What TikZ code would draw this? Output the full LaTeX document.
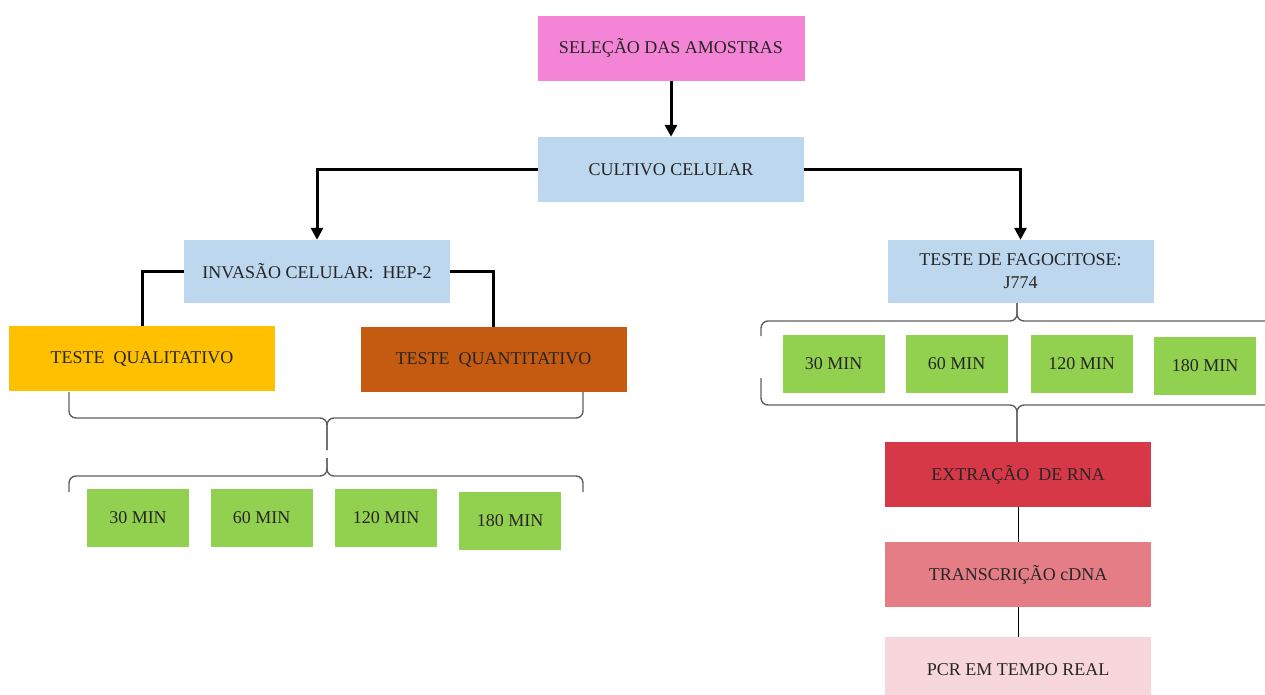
\documentclass[tikz,border=0pt]{standalone}
\usepackage{fontspec}
\setmainfont{Liberation Serif}
\usetikzlibrary{arrows.meta}

\definecolor{rosa}{HTML}{F484D6}
\definecolor{azul}{HTML}{BDD7EE}
\definecolor{ouro}{HTML}{FFC000}
\definecolor{laranja}{HTML}{C55A11}
\definecolor{verde}{HTML}{92D050}
\definecolor{rna1}{HTML}{D63848}
\definecolor{rna2}{HTML}{E47D86}
\definecolor{rna3}{HTML}{F8D7DC}
\definecolor{texto}{HTML}{262626}
\definecolor{cinza}{HTML}{5F5F5F}

\tikzset{
  caixa/.style={rectangle, minimum width=266pt, minimum height=65pt,
    inner sep=0pt, text=texto, align=center,
    font=\fontsize{18}{23}\selectfont},
  tempo/.style={caixa, fill=verde, minimum width=102pt, minimum height=58pt},
  seta/.style={-{Triangle[length=12pt,width=12pt]}, line width=3pt},
  liga/.style={line width=3pt},
  fino/.style={line width=1pt},
  chave/.style={draw=cinza, line width=1.4pt, rounded corners=7pt},
}

\begin{document}
\begin{tikzpicture}[x=1pt,y=-1pt]
  \useasboundingbox (0,0) rectangle (1265,694);

  \node[caixa, fill=rosa, minimum width=267pt] (selecao) at (671,48) {SELEÇÃO DAS AMOSTRAS};
  \node[caixa, fill=azul] (cultivo) at (671,169.5) {CULTIVO CELULAR};
  \node[caixa, fill=azul, minimum height=63pt] (invasao) at (317,271.5)
    {INVASÃO CELULAR:\ \ HEP-2};
  \node[caixa, fill=azul, minimum height=63pt] (fagocitose) at (1020.5,271.5)
    {TESTE DE FAGOCITOSE:\\J774};
  \node[caixa, fill=ouro] (qualitativo) at (142,358.5) {TESTE\ \ QUALITATIVO};
  \node[caixa, fill=laranja] (quantitativo) at (493.5,359.5) {TESTE\ \ QUANTITATIVO};

  % tempos de invasao
  \foreach \t/\x/\y in {30/138/518, 60/261.5/518, 120/386/518, 180/510/521}
    \node[tempo] (inv\t) at (\x,\y) {\t\ MIN};

  % tempos de fagocitose
  \foreach \t/\x/\y in {30/833.5/363.5, 60/956.5/363.5, 120/1081.5/363.5, 180/1205/366}
    \node[tempo] (fag\t) at (\x,\y) {\t\ MIN};

  \node[caixa, fill=rna1] (extracao) at (1018,474.5) {EXTRAÇÃO\ \ DE RNA};
  \node[caixa, fill=rna2] (transcricao) at (1018,574.5) {TRANSCRIÇÃO cDNA};
  \node[caixa, fill=rna3, minimum height=66pt] (pcr) at (1018,670) {PCR EM TEMPO REAL};

  \draw[seta] (selecao) -- (cultivo);
  \draw[seta] (cultivo.west) -| (invasao.north);
  \draw[seta] (cultivo.east) -| (fagocitose.north);
  \draw[liga] (invasao.west) -| (qualitativo.north);
  \draw[liga] (invasao.east) -| (quantitativo.north);
  \draw[fino] (extracao) -- (transcricao);
  \draw[fino] (transcricao) -- (pcr);

  % chaves
  \draw[chave] (69,392) -- (69,418) -- (327,418) -- (327,450);
  \draw[chave] (583,392) -- (583,418) -- (327,418) -- (327,450);
  \draw[chave] (69,492) -- (69,476) -- (327,476) -- (327,458);
  \draw[chave] (583,492) -- (583,476) -- (327,476) -- (327,458);
  \draw[chave] (761,336) -- (761,321) -- (1017,321) -- (1017,303);
  \draw[chave] (1275,321) -- (1017,321) -- (1017,303);
  \draw[chave] (761,378) -- (761,405) -- (1017,405) -- (1017,442);
  \draw[chave] (1275,405) -- (1017,405) -- (1017,442);
\end{tikzpicture}
\end{document}
